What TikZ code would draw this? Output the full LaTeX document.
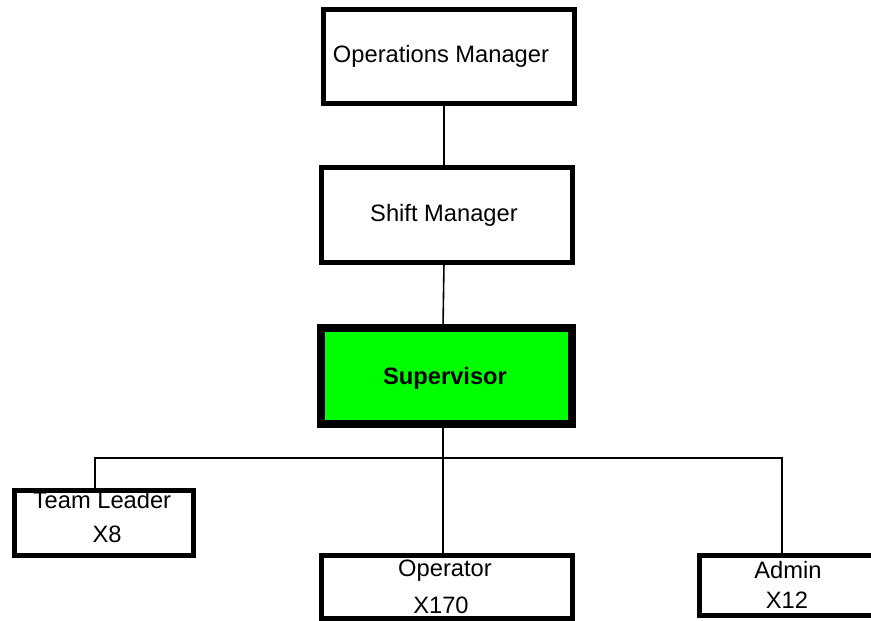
\documentclass[tikz,border=0pt]{standalone}
\usepackage{fontspec}
\setmainfont{Liberation Sans}
\definecolor{supgreen}{RGB}{0,255,0}
\tikzset{
  box/.style={draw=black, line width=5pt, fill=white, rectangle, inner sep=0pt, outer sep=0pt},
  bigbox/.style={box, line width=8pt, fill=supgreen},
  lbl/.style={anchor=base, inner sep=0pt, font=\fontsize{23.7}{28}\selectfont},
  conn/.style={draw=black, line width=1.6pt}
}
\begin{document}
\begin{tikzpicture}[x=1pt,y=-1pt]
\useasboundingbox (0,0) rectangle (871,621);
\begin{scope}
\clip (0,0) rectangle (871,621);
% connectors first
\coordinate (busL) at (95,458);
\coordinate (busR) at (782,458);
\coordinate (busM) at (443,458);
% boxes
\node[box, minimum width=251pt, minimum height=94pt] (ops) at (449,56.5) {};
\node[box, minimum width=251pt, minimum height=95pt] (shift) at (447,215) {};
\node[bigbox, minimum width=251pt, minimum height=96pt] (sup) at (446.5,376) {};
\node[box, minimum width=179pt, minimum height=65pt] (team) at (104,523) {};
\node[box, minimum width=251pt, minimum height=63pt] (oper) at (447,587) {};
\node[box, minimum width=178pt, minimum height=60pt] (admin) at (788.5,585.5) {};
% connectors
\draw[conn] ([xshift=-5pt]ops.south) -- ([xshift=-3pt]shift.north);
\draw[conn] ([xshift=-3pt]shift.south) -- ([xshift=-3.5pt]sup.north);
\draw[conn] ([xshift=-3.5pt]sup.south) -- (busM) -- (busM |- oper.north);
\draw[conn] (busL |- team.north) -- (busL) -- (busR) -- (busR |- admin.north);
% texts
\node[lbl] (tops) at (441,62) {Operations Manager};
\node[lbl] (tshift) at (444,221.5) {Shift Manager};
\node[lbl, font=\fontsize{23.7}{28}\selectfont\bfseries] (tsup) at (445,384) {Supervisor};
\node[lbl] (tteam) at (102,508) {Team Leader};
\node[lbl] (tteamx) at (107,542) {X8};
\node[lbl] (toper) at (445,576) {Operator};
\node[lbl] (toperx) at (441,613) {X170};
\node[lbl] (tadmin) at (788,578) {Admin};
\node[lbl] (tadminx) at (787,608) {X12};
\end{scope}
\end{tikzpicture}
\end{document}
